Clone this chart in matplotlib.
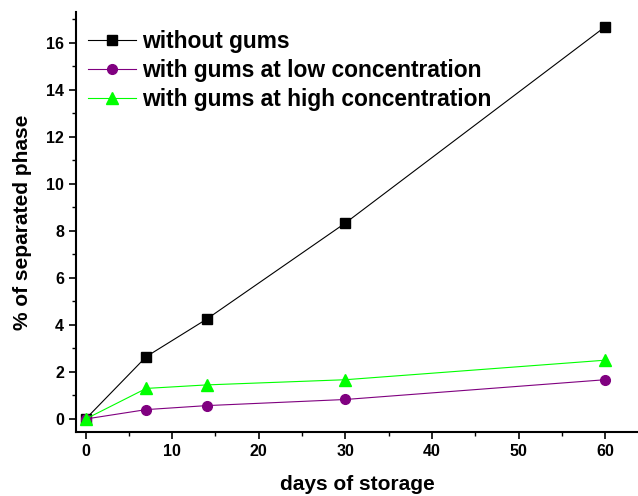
import matplotlib
matplotlib.use("Agg")
import matplotlib.pyplot as plt
from matplotlib.ticker import MultipleLocator

# Data
days = [0, 7, 14, 30, 60]
without_gums = [0, 2.65, 4.25, 8.33, 16.67]
gums_low = [0, 0.40, 0.57, 0.83, 1.67]
gums_high = [0, 1.30, 1.45, 1.67, 2.50]

plt.rcParams['font.family'] = ['Liberation Sans', 'DejaVu Sans']
plt.rcParams['font.weight'] = 'bold'

fig = plt.figure(figsize=(6.38, 4.96), dpi=100)
ax = fig.add_axes([0.119, 0.1296, 0.881, 0.8462])

ax.plot(days, without_gums, color='black', marker='s', markersize=6.5, linewidth=0.8,
        label='without gums')
ax.plot(days, gums_low, color='#800080', marker='o', markersize=7, linewidth=0.8,
        label='with gums at low concentration')
ax.plot(days, gums_high, color='#00ff00', marker='^', markersize=8, linewidth=0.8,
        label='with gums at high concentration')

ax.set_xlim(-1.12, 63.8)
ax.set_ylim(-0.54, 17.3)
ax.xaxis.set_major_locator(MultipleLocator(10))
ax.xaxis.set_minor_locator(MultipleLocator(5))
ax.yaxis.set_major_locator(MultipleLocator(2))
ax.yaxis.set_minor_locator(MultipleLocator(1))

for s in ['top', 'right']:
    ax.spines[s].set_visible(False)
for s in ['left', 'bottom']:
    ax.spines[s].set_linewidth(1.5)

ax.tick_params(which='major', direction='out', length=5, width=1.2, labelsize=11.5)
ax.tick_params(which='minor', direction='out', length=3, width=1.0)
for lab in ax.get_xticklabels() + ax.get_yticklabels():
    lab.set_fontweight('bold')

ax.set_xlabel('days of storage', fontsize=15, fontweight='bold', labelpad=12)
ax.set_ylabel('% of separated phase', fontsize=15, fontweight='bold', labelpad=10)

ax.legend(loc='upper left', frameon=False, prop={'size': 16.4, 'weight': 'bold'},
          handlelength=2.1, handletextpad=0.3, labelspacing=0.27,
          borderaxespad=0, bbox_to_anchor=(0.005, 0.98))

fig.savefig('out.png', dpi=100)
